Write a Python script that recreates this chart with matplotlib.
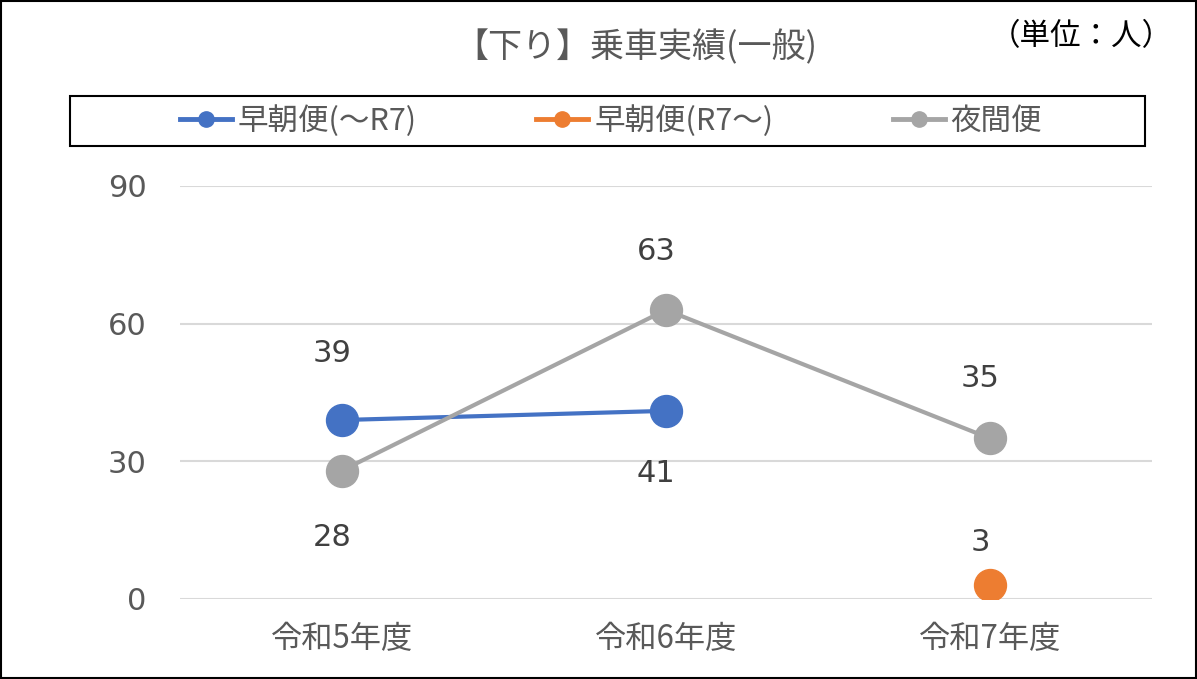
import matplotlib
matplotlib.use("Agg")
import matplotlib.pyplot as plt
import numpy as np
from matplotlib.lines import Line2D
from matplotlib.patches import Rectangle

plt.rcParams['font.family'] = ['Noto Sans CJK JP', 'DejaVu Sans']

categories = ["令和5年度", "令和6年度", "令和7年度"]
series_names = ["早朝便(～R7)", "早朝便(R7～)", "夜間便"]
early_old = [39, 41, np.nan]
early_new = [np.nan, np.nan, 3]
night = [28, 63, 35]
yticks = [0, 30, 60, 90]
title = "【下り】乗車実績(一般)"
unit = "（単位：人）"

colors = ["#4472C4", "#ED7D31", "#A5A5A5"]
# label offsets (points): positive above, negative below
label_offsets = [[48, -45, None], [None, None, 31], [-48, 42, 43]]
num_font = ['DejaVu Sans']

fig = plt.figure(figsize=(11.97, 6.79), dpi=100)
ax = fig.add_axes([180/1197, 1-599/679, 972/1197, 413/679])

x = np.arange(len(categories))
all_series = [early_old, early_new, night]
for s, name, c, offs in zip(all_series, series_names, colors, label_offsets):
    ax.plot(x, s, color=c, lw=3, marker='o', markersize=23, label=name,
            solid_capstyle='round', zorder=3)
    for xi, v, o in zip(x, s, offs):
        if np.isnan(v) or o is None:
            continue
        ax.annotate(f"{v:g}", (xi, v), xytext=(-7, o), textcoords='offset points',
                    ha='center', va='center', fontsize=22, color='#404040',
                    family=num_font)

ax.set_xlim(-0.5, 2.5)
ax.set_ylim(0, 90)
ax.set_yticks(yticks)
ax.set_xticks(x)
ax.set_xticklabels(categories, fontsize=22.5)
ax.tick_params(axis='both', length=0, colors='#595959')
ax.tick_params(axis='y', pad=24, labelsize=22)
ax.tick_params(axis='x', pad=17)
for t in ax.get_yticklabels():
    t.set_family(num_font)
ax.grid(axis='y', color='#D9D9D9', lw=1.5)
ax.set_axisbelow(True)
for sp in ax.spines.values():
    sp.set_visible(False)

fig.text(636/1197, 1-48/679, title, ha='center', va='center', fontsize=24.5, color='#595959')
fig.text(1081/1197, 1-37/679, unit, ha='center', va='center', fontsize=22, color='black')

# legend box
fig.add_artist(Rectangle((70/1197, 1-146/679), 1075/1197, 50/679, transform=fig.transFigure,
                         fill=False, edgecolor='black', lw=1.5))
handles = [Line2D([0], [0], color=c, lw=3.5, marker='o', markersize=11) for c in colors]
leg = fig.legend(handles, series_names, loc='center', bbox_to_anchor=(611/1197, 1-121/679),
                 ncol=3, frameon=False, fontsize=22, handlelength=1.7, handletextpad=0.2,
                 columnspacing=3.9, labelcolor='#595959')

# outer border
fig.add_artist(Rectangle((0.001, 0.001), 0.998, 0.997, transform=fig.transFigure,
                         fill=False, edgecolor='black', lw=1.5))

fig.savefig("out.png", dpi=100)
